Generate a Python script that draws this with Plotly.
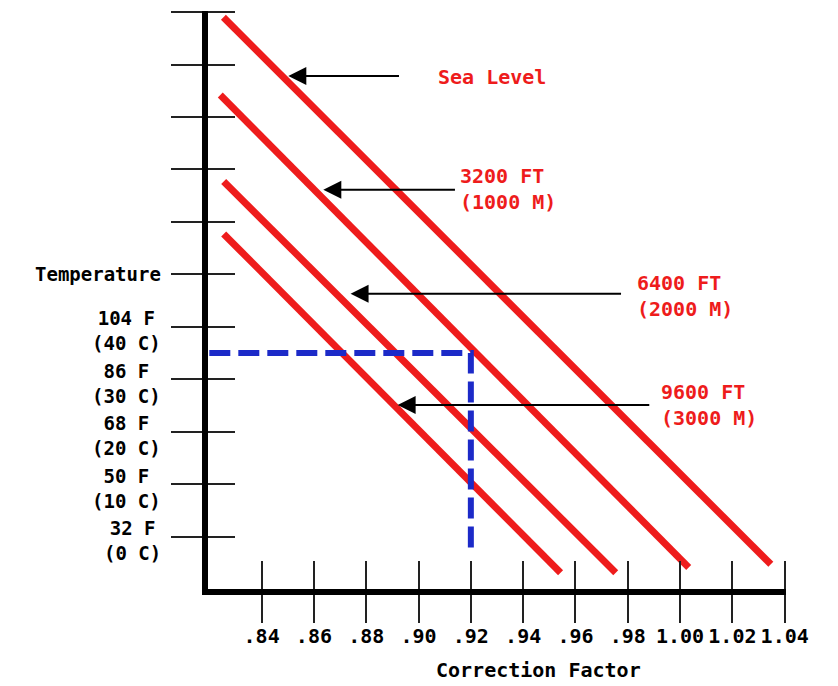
import plotly.graph_objects as go

# ---------------- data ----------------
factor_ticks = [0.84, 0.86, 0.88, 0.90, 0.92, 0.94, 0.96, 0.98, 1.00, 1.02, 1.04]
factor_labels = [".84", ".86", ".88", ".90", ".92", ".94", ".96", ".98", "1.00", "1.02", "1.04"]

temp_ticks_c = [0, 10, 20, 30, 40, 50, 60, 70, 80, 90, 100]
temp_label_c = [50, 40, 30, 20, 10, 0]
temp_labels = ["Temperature", "104 F<br>(40 C)", "86 F<br>(30 C)",
               "68 F<br>(20 C)", "50 F<br>(10 C)", "32 F<br>(0 C)"]

altitude_names = ["Sea Level", "3200 FT<br>(1000 M)", "6400 FT<br>(2000 M)", "9600 FT<br>(3000 M)"]
line_factor = [[0.8254, 1.0347], [0.8242, 1.0033], [0.8255, 0.9754], [0.8255, 0.9543]]
line_temp_c = [[99.0, -5.3], [84.2, -5.9], [67.7, -6.9], [57.7, -6.9]]

# arrow tip / tail (correction factor) and height (deg C) for each altitude label
arrow_tip = [0.8502, 0.8636, 0.8740, 0.8920]
arrow_tail = [0.8931, 0.9145, 0.9780, 0.9888]
arrow_temp_c = [87.8, 66.1, 46.3, 25.1]
label_factor = [0.9065, 0.9149, 0.9826, 0.9918]
label_temp_c = [87.6, 66.3, 45.8, 25.1]

example_factor = [0.82, 0.92, 0.92]
example_temp_c = [35, 35, -3]

# ---------------- styles ----------------
FONT = "DejaVu Sans Mono"
RED = "#ee1c1c"
BLUE = "#1c2ac8"
X_RANGE = [0.8195, 1.0405]
Y_RANGE = [-10, 100.2]

fig = go.Figure()

for fx, ty in zip(line_factor, line_temp_c):
    fig.add_trace(go.Scatter(x=fx, y=ty, mode="lines",
                             line=dict(color=RED, width=7),
                             hoverinfo="skip", showlegend=False))

fig.add_trace(go.Scatter(x=example_factor, y=example_temp_c, mode="lines",
                         line=dict(color=BLUE, width=6, dash="21px,8px"),
                         hoverinfo="skip", showlegend=False))

# invisible trace to carry the overlay axes (inner half of the crossing ticks)
fig.add_trace(go.Scatter(x=[0.9], y=[50], mode="markers", xaxis="x2", yaxis="y2",
                         marker=dict(opacity=0), hoverinfo="skip", showlegend=False))

annotations = []
for name, tip, tail, ty, lx, ly in zip(altitude_names, arrow_tip, arrow_tail,
                                       arrow_temp_c, label_factor, label_temp_c):
    annotations.append(dict(x=tip, y=ty, ax=tail, ay=ty, xref="x", yref="y",
                            axref="x", ayref="y", text="", showarrow=True,
                            arrowhead=2, arrowsize=1.8, arrowwidth=2,
                            arrowcolor="black", standoff=0))
    annotations.append(dict(x=lx, y=ly, xref="x", yref="y", text=name,
                            showarrow=False, xanchor="left", yanchor="middle",
                            align="left",
                            font=dict(family=FONT, size=20, color=RED, weight="bold")))

for tc, lab in zip(temp_label_c, temp_labels):
    annotations.append(dict(x=-0.078, y=tc, xref="paper", yref="y", text=lab,
                            showarrow=False, xanchor="right", yanchor="middle",
                            align="center", yshift=0 if "<br>" not in lab else -4,
                            font=dict(family=FONT, size=19, color="black", weight="bold")))

annotations.append(dict(x=0.571, y=-0.140, xref="paper", yref="paper",
                        text="Correction Factor", showarrow=False,
                        xanchor="center", yanchor="middle",
                        font=dict(family=FONT, size=20, color="black", weight="bold")))

fig.update_layout(
    width=830, height=678,
    margin=dict(l=200, r=52, t=3, b=97, autoexpand=False),
    paper_bgcolor="white", plot_bgcolor="white",
    showlegend=False,
    annotations=annotations,
    xaxis=dict(range=X_RANGE, showgrid=False, zeroline=False, automargin=False,
               showline=True, linecolor="black", linewidth=6,
               tickmode="array", tickvals=factor_ticks, ticktext=factor_labels,
               ticks="outside", ticklen=28, tickwidth=2, tickcolor="#222",
               ticklabelstandoff=-4,
               tickfont=dict(family=FONT, size=20, color="black", weight="bold"),
               fixedrange=True),
    yaxis=dict(range=Y_RANGE, showgrid=False, zeroline=False, automargin=False,
               showline=True, linecolor="black", linewidth=6,
               tickmode="array", tickvals=temp_ticks_c, showticklabels=False,
               ticks="outside", ticklen=31, tickwidth=2, tickcolor="#222",
               fixedrange=True),
    xaxis2=dict(range=X_RANGE, overlaying="x", anchor="y2", side="bottom",
                showgrid=False, zeroline=False, showline=False, automargin=False,
                tickmode="array", tickvals=factor_ticks, showticklabels=False,
                ticks="inside", ticklen=28, tickwidth=2, tickcolor="#222",
                fixedrange=True),
    yaxis2=dict(range=Y_RANGE, overlaying="y", anchor="x2", side="left",
                showgrid=False, zeroline=False, showline=False, automargin=False,
                tickmode="array", tickvals=temp_ticks_c, showticklabels=False,
                ticks="inside", ticklen=27, tickwidth=2, tickcolor="#222",
                fixedrange=True),
)

fig.write_html("out.html")
